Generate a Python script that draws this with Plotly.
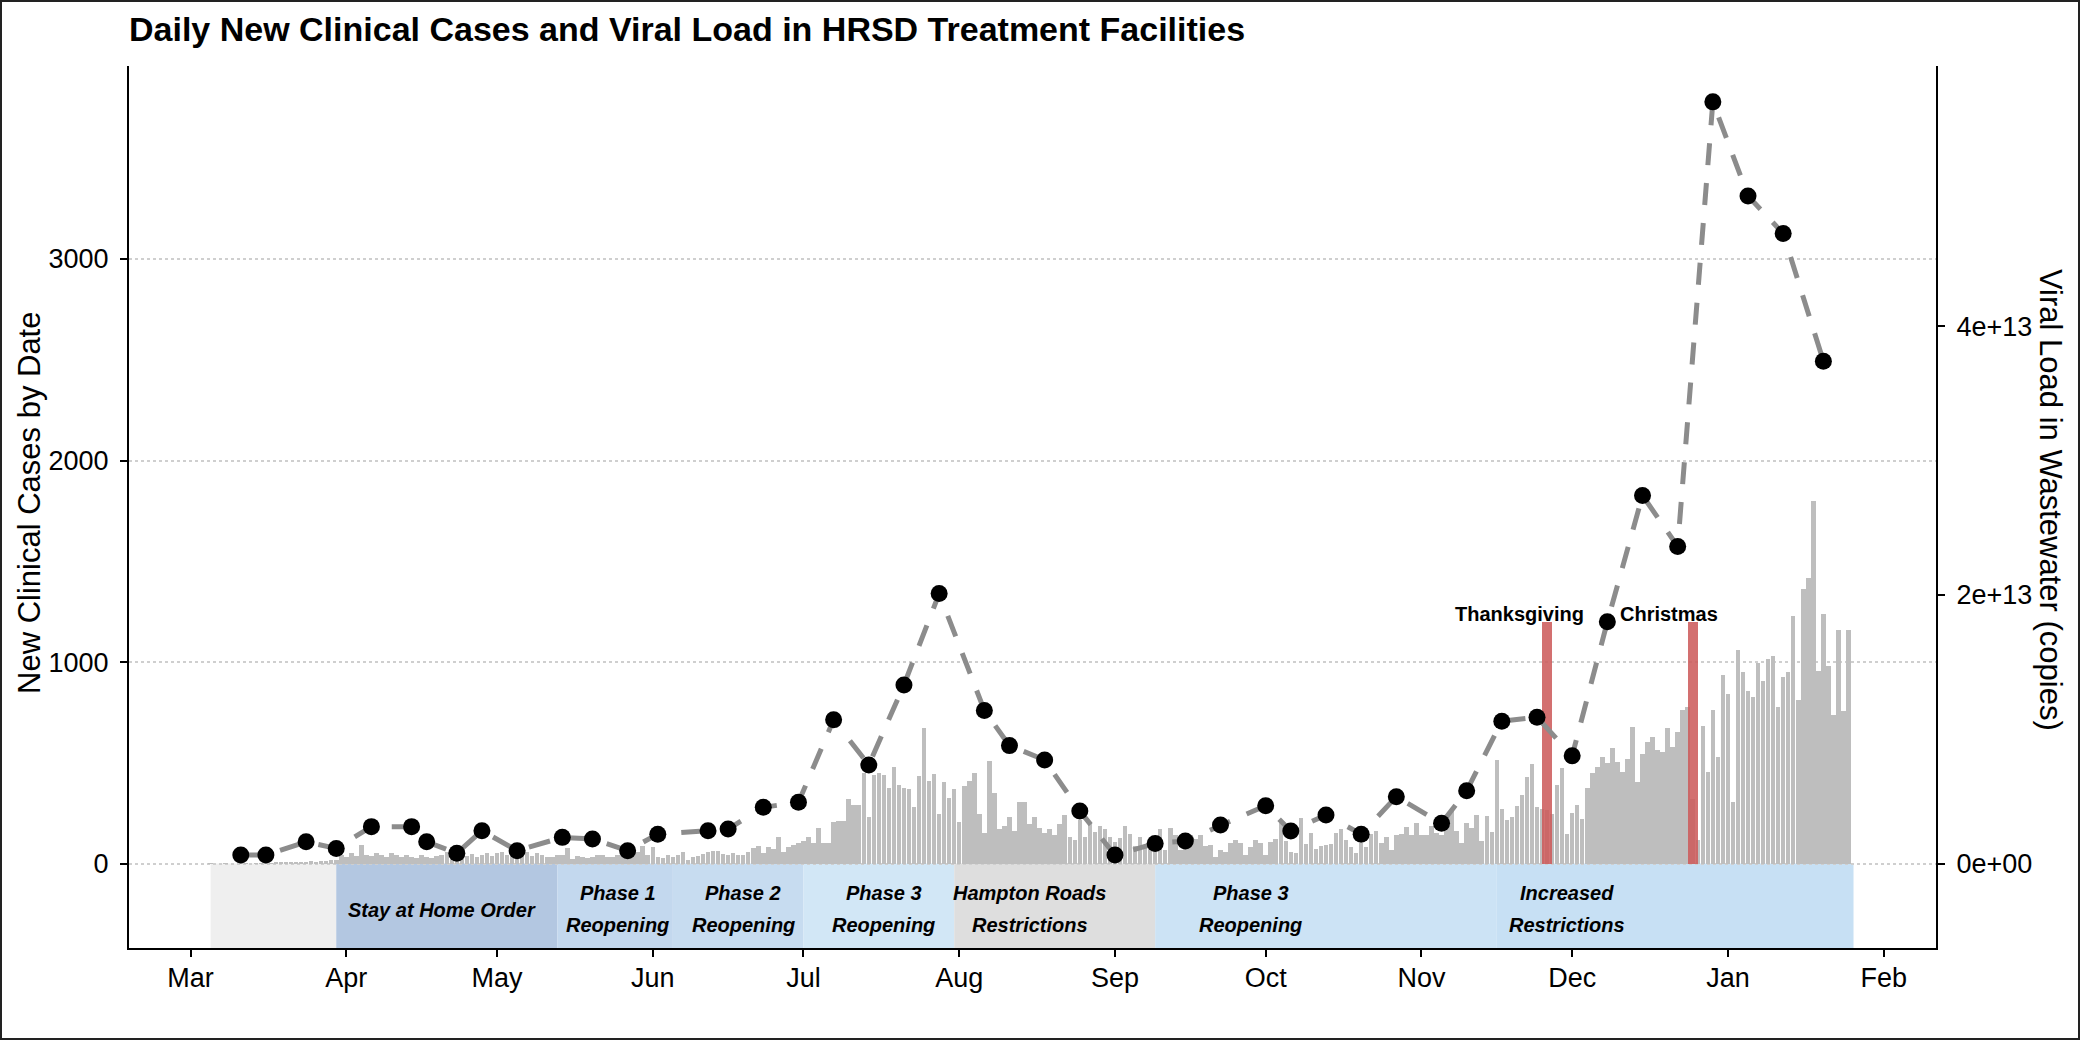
import pandas as pd
import plotly.graph_objects as go

# ---------------------------------------------------------------
# Daily new clinical cases (one value per day, starting 2020-03-05)
# ---------------------------------------------------------------
case_start = "2020-03-05"
daily_cases = [
    # Mar 5 - Mar 29
    1, 0, 0, 1, 0, 0, 2, 1, 0, 1, 2, 3, 2, 4, 3, 6, 8, 5, 7, 9, 12, 10, 14, 15, 18,
    # Mar 30 - May 10
    17, 42, 34, 50, 37, 92, 42, 37, 50, 42, 34, 54, 42, 34, 42, 31, 26, 42, 34, 26,
    37, 42, 59, 34, 42, 50, 37, 47, 34, 42, 50, 37, 54, 59, 42, 50, 34, 42, 59, 37,
    50, 42,
    # May 11 - Jul 17
    31, 34, 42, 45, 75, 21, 37, 34, 26, 31, 45, 42, 34, 34, 45, 42, 66, 50, 59, 87,
    42, 80, 31, 26, 42, 34, 42, 55, 17, 31, 39, 47, 59, 64, 62, 47, 42, 50, 42, 45,
    59, 75, 87, 50, 80, 70, 130, 59, 80, 92, 100, 111, 130, 100, 179, 103, 100, 208,
    212, 212, 318, 293, 290, 447, 229, 439, 447, 439,
    # Jul 18 - Sep 22
    373, 481, 390, 373, 370, 279, 434, 671, 411, 444, 244, 403, 323, 370, 204, 386,
    409, 447, 246, 150, 510, 348, 170, 186, 232, 161, 307, 307, 194, 229, 178, 150,
    170, 141, 196, 241, 133, 117, 216, 133, 203, 158, 186, 170, 130, 108, 125, 186,
    146, 87, 130, 87, 120, 136, 170, 67, 179, 141, 67, 125, 100, 122, 141, 87, 92,
    34, 67,
    # Sep 23 - Nov 29
    58, 104, 119, 103, 41, 83, 119, 103, 41, 108, 124, 199, 112, 58, 50, 228, 99,
    152, 74, 88, 94, 99, 152, 170, 119, 83, 50, 104, 83, 149, 160, 104, 132, 66, 141,
    146, 182, 144, 202, 141, 144, 187, 152, 141, 232, 268, 162, 104, 202, 177, 240,
    111, 235, 157, 513, 270, 218, 232, 285, 339, 430, 493, 281, 273, 265, 248, 389,
    476,
    # Nov 30 - Jan 25
    149, 249, 290, 219, 373, 448, 481, 531, 501, 575, 506, 456, 517, 680, 406, 542,
    605, 630, 564, 552, 675, 580, 655, 763, 779, 320, 116, 683, 456, 763, 531, 937,
    842, 307, 1061, 949, 857, 829, 995, 904, 1017, 1028, 776, 925, 949, 1227, 813,
    1363, 1418, 1799, 957, 1239, 978, 735, 1158, 755, 1158,
]
case_dates = pd.date_range(case_start, periods=len(daily_cases), freq="D")

# ---------------------------------------------------------------
# Viral load sampled at the treatment facilities (copies)
# ---------------------------------------------------------------
sample_dates = [
    "2020-03-11", "2020-03-16", "2020-03-24", "2020-03-30", "2020-04-06",
    "2020-04-14", "2020-04-17", "2020-04-23", "2020-04-28", "2020-05-05",
    "2020-05-14", "2020-05-20", "2020-05-27", "2020-06-02", "2020-06-12",
    "2020-06-16", "2020-06-23", "2020-06-30", "2020-07-07", "2020-07-14",
    "2020-07-21", "2020-07-28", "2020-08-06", "2020-08-11", "2020-08-18",
    "2020-08-25", "2020-09-01", "2020-09-09", "2020-09-15", "2020-09-22",
    "2020-10-01", "2020-10-06", "2020-10-13", "2020-10-20", "2020-10-27",
    "2020-11-05", "2020-11-10", "2020-11-17", "2020-11-24", "2020-12-01",
    "2020-12-08", "2020-12-15", "2020-12-22", "2020-12-29", "2021-01-05",
    "2021-01-12", "2021-01-20",
]
viral_load = [
    6.3e11, 6.3e11, 1.62e12, 1.13e12, 2.75e12,
    2.75e12, 1.62e12, 7.7e11, 2.45e12, 9.6e11,
    1.95e12, 1.83e12, 9.6e11, 2.19e12, 2.45e12,
    2.57e12, 4.19e12, 4.56e12, 1.07e13, 7.34e12,
    1.33e13, 2.01e13, 1.14e13, 8.78e12, 7.71e12,
    3.92e12, 6.3e11, 1.5e12, 1.68e12, 2.87e12,
    4.31e12, 2.42e12, 3.62e12, 2.19e12, 4.98e12,
    3.0e12, 5.42e12, 1.06e13, 1.09e13, 8.03e12,
    1.80e13, 2.74e13, 2.36e13, 5.67e13, 4.97e13,
    4.69e13, 3.74e13,
]

# Secondary axis: copies per case-axis unit
load_scale = 1.5e10

# ---------------------------------------------------------------
# Policy periods shown as bands below the zero line
# ---------------------------------------------------------------
period_starts = ["2020-03-05", "2020-03-30", "2020-05-13", "2020-06-05",
                 "2020-07-01", "2020-07-31", "2020-09-09", "2020-11-16"]
period_ends = ["2020-03-30", "2020-05-13", "2020-06-05", "2020-07-01",
               "2020-07-31", "2020-09-09", "2020-11-16", "2021-01-26"]
period_colors = ["#EFEFEF", "#B3C7E1", "#C3D8EE", "#C7DCF0",
                 "#D2E7F6", "#DEDEDE", "#CCE3F5", "#C7E0F4"]

label_dates = ["2020-04-20", "2020-05-25", "2020-06-19", "2020-07-17",
               "2020-08-15", "2020-09-28", "2020-11-30"]
label_line1 = ["Stay at Home Order", "Phase 1", "Phase 2", "Phase 3",
               "Hampton Roads", "Phase 3", "Increased"]
label_line2 = ["", "Reopening", "Reopening", "Reopening",
               "Restrictions", "Reopening", "Restrictions"]

holiday_dates = ["2020-11-26", "2020-12-25"]
holiday_names = ["Thanksgiving", "Christmas"]
holiday_label_dates = ["2020-11-20 12:00", "2020-12-20 06:00"]
holiday_height = 1200

y_range = [-419, 3958]
x_range = ["2020-02-17 18:00", "2021-02-11 10:00"]
month_ticks = pd.date_range("2020-03-01", "2021-02-01", freq="MS")

FONT = "Liberation Sans, Arial, sans-serif"
DAY_MS = 86400000

fig = go.Figure()

# daily case bars
fig.add_trace(go.Bar(
    x=case_dates, y=daily_cases, width=[0.9 * DAY_MS] * len(daily_cases),
    marker=dict(color="#BEBEBE", line=dict(width=0)),
    hoverinfo="skip", showlegend=False,
))

# holiday markers
fig.add_trace(go.Bar(
    x=pd.to_datetime(holiday_dates), y=[holiday_height] * len(holiday_dates),
    width=[1.9 * DAY_MS] * len(holiday_dates),
    marker=dict(color="rgba(205,92,92,0.88)", line=dict(width=0)),
    hoverinfo="skip", showlegend=False,
))

# viral load: dashed connector and sample points
fig.add_trace(go.Scatter(
    x=pd.to_datetime(sample_dates), y=viral_load, yaxis="y2", mode="lines",
    line=dict(color="#8C8C8C", width=5, dash="22px,18px"),
    hoverinfo="skip", showlegend=False,
))
fig.add_trace(go.Scatter(
    x=pd.to_datetime(sample_dates), y=viral_load, yaxis="y2", mode="markers",
    marker=dict(color="black", size=17, line=dict(width=0)),
    hoverinfo="skip", showlegend=False,
))

shapes = []
for s, e, c in zip(period_starts, period_ends, period_colors):
    shapes.append(dict(type="rect", xref="x", yref="y", x0=s, x1=e,
                       y0=y_range[0], y1=0, fillcolor=c, line=dict(width=0),
                       layer="below"))

# frame around the whole figure
W, H = 2080, 1040
ml, mr, mt, mb = 129, 144, 66, 92
pw, ph = W - ml - mr, H - mt - mb
shapes.append(dict(type="rect", xref="paper", yref="paper",
                   x0=(-ml + 1) / pw, x1=1 + (mr - 1) / pw,
                   y0=(-mb + 1) / ph, y1=1 + (mt - 1) / ph,
                   line=dict(color="#222222", width=2), fillcolor="rgba(0,0,0,0)",
                   layer="above"))

annotations = []
label_font = dict(family=FONT, size=20, color="black")
for d, l1, l2 in zip(label_dates, label_line1, label_line2):
    if l2:
        annotations.append(dict(x=d, y=-146, xref="x", yref="y", text=f"<b><i>{l1}</i></b>",
                                showarrow=False, font=label_font, xanchor="center", yanchor="middle"))
        annotations.append(dict(x=d, y=-305, xref="x", yref="y", text=f"<b><i>{l2}</i></b>",
                                showarrow=False, font=label_font, xanchor="center", yanchor="middle"))
    else:
        annotations.append(dict(x=d, y=-231, xref="x", yref="y", text=f"<b><i>{l1}</i></b>",
                                showarrow=False, font=label_font, xanchor="center", yanchor="middle"))

for d, name in zip(holiday_label_dates, holiday_names):
    annotations.append(dict(x=d, y=1240, xref="x", yref="y", text=f"<b>{name}</b>",
                            showarrow=False, font=label_font, xanchor="center", yanchor="middle"))

# axis titles
annotations.append(dict(x=(29 - ml) / pw, y=(H - mb - 503) / ph, xref="paper", yref="paper",
                        text="New Clinical Cases by Date", textangle=-90, showarrow=False,
                        font=dict(family=FONT, size=31, color="black"),
                        xanchor="center", yanchor="middle"))
annotations.append(dict(x=(2051 - ml) / pw, y=(H - mb - 500) / ph, xref="paper", yref="paper",
                        text="Viral Load in Wastewater (copies)", textangle=90, showarrow=False,
                        font=dict(family=FONT, size=31, color="black"),
                        xanchor="center", yanchor="middle"))

tick_font = dict(family=FONT, size=27, color="black")

fig.update_layout(
    width=W, height=H,
    margin=dict(l=ml, r=mr, t=mt, b=mb, pad=0),
    paper_bgcolor="white", plot_bgcolor="white",
    barmode="overlay", bargap=0,
    title=dict(text="<b>Daily New Clinical Cases and Viral Load in HRSD Treatment Facilities</b>",
               x=ml / W, xanchor="left", xref="container",
               y=1 - 29 / H, yanchor="middle", yref="container",
               font=dict(family=FONT, size=34, color="black")),
    xaxis=dict(type="date", range=x_range, tickvals=month_ticks, tickformat="%b",
               showgrid=False, zeroline=False, showline=True, linecolor="black", linewidth=2,
               ticks="outside", ticklen=7, tickwidth=2, tickcolor="black",
               tickfont=tick_font, ticklabelstandoff=-2),
    yaxis=dict(range=y_range, tickvals=[0, 1000, 2000, 3000],
               showgrid=True, gridcolor="#CFCFCF", griddash="dot", gridwidth=2,
               zeroline=False, showline=True, linecolor="black", linewidth=2,
               ticks="outside", ticklen=7, tickwidth=2, tickcolor="black",
               tickfont=tick_font, ticklabelstandoff=6),
    yaxis2=dict(range=[y_range[0] * load_scale, y_range[1] * load_scale],
                overlaying="y", side="right",
                tickvals=[0, 2e13, 4e13], ticktext=["0e+00", "2e+13", "4e+13"],
                showgrid=False, zeroline=False, showline=True, linecolor="black", linewidth=2,
                ticks="outside", ticklen=7, tickwidth=2, tickcolor="black",
                tickfont=tick_font, ticklabelstandoff=6),
    shapes=shapes,
    annotations=annotations,
)

fig.write_html("out.html")
